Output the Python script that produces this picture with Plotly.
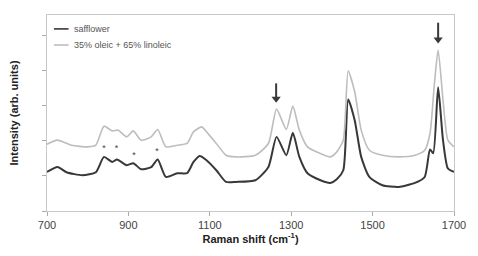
import plotly.graph_objects as go

# Raman shift (cm^-1) sample positions
wn_dark = [700, 726, 748, 787, 820, 840, 860, 872, 896, 912, 931, 956, 972, 992, 1020, 1044,
           1060, 1075, 1092, 1116, 1140, 1164, 1212, 1244, 1264, 1288, 1304, 1320, 1340, 1372,
           1396, 1412, 1428, 1440, 1456, 1472, 1492, 1524, 1564, 1604, 1628, 1641, 1649, 1661,
           1673, 1685, 1700]
safflower = [1.114, 1.257, 1.106, 1.02, 1.106, 1.543, 1.4, 1.469, 1.306, 1.363, 1.191, 1.249,
             1.469, 0.971, 1.077, 1.077, 1.4, 1.571, 1.449, 1.163, 0.829, 0.829, 0.877, 1.257,
             2.114, 1.591, 2.229, 1.543, 1.077, 0.877, 0.8, 0.906, 1.163, 3.183, 2.591, 1.543,
             0.971, 0.734, 0.686, 0.8, 0.971, 1.754, 1.649, 3.526, 2.02, 1.211, 1.114]

wn_light = [700, 726, 760, 800, 820, 840, 860, 875, 896, 912, 931, 956, 972, 992, 1020, 1044,
            1060, 1080, 1092, 1116, 1140, 1164, 1212, 1244, 1264, 1288, 1304, 1320, 1340, 1372,
            1396, 1412, 1428, 1440, 1456, 1472, 1492, 1524, 1564, 1604, 1628, 1641, 1652, 1661,
            1673, 1685, 1700]
mix = [1.906, 2.02, 1.877, 1.829, 1.877, 2.42, 2.286, 2.306, 2.114, 2.286, 2.02, 2.114, 2.326,
       1.829, 1.877, 1.926, 2.257, 2.4, 2.257, 1.926, 1.591, 1.543, 1.591, 1.926, 2.906, 2.326,
       2.991, 2.306, 1.829, 1.64, 1.543, 1.686, 2.02, 3.991, 3.4, 2.306, 1.734, 1.591, 1.543,
       1.591, 1.734, 2.211, 3.649, 4.591, 3.163, 2.02, 1.829]

series_names = ["safflower", "35% oleic + 65% linoleic"]

star_x = [840, 871, 914, 970]
star_y = [1.763, 1.763, 1.583, 1.686]

# marked bands (arrows): position, arrow tail and arrow tip
arrow_x = [1263, 1661]
arrow_top = [3.64, 5.37]
arrow_tip = [3.114, 4.8]

x_ticks = [700, 900, 1100, 1300, 1500, 1700]

FONT = "Liberation Sans, Arial, sans-serif"
DARK = "#383838"
LIGHT = "#bdbdbd"

fig = go.Figure()
fig.add_trace(go.Scatter(x=wn_dark, y=safflower, mode="lines", name=series_names[0],
                         line=dict(color=DARK, width=2, shape="spline", smoothing=0.6),
                         showlegend=False))
fig.add_trace(go.Scatter(x=wn_light, y=mix, mode="lines", name=series_names[1],
                         line=dict(color=LIGHT, width=1.6, shape="spline", smoothing=0.6),
                         showlegend=False))
fig.add_trace(go.Scatter(x=star_x, y=star_y, mode="text", text=["*"] * len(star_x),
                         textfont=dict(size=9, color="#444", family=FONT), showlegend=False,
                         hoverinfo="skip"))

# arrow shafts
shaft_x, shaft_y = [], []
for xa, yt, yp in zip(arrow_x, arrow_top, arrow_tip):
    shaft_x += [xa, xa, None]
    shaft_y += [yt, yp + 0.12, None]
fig.add_trace(go.Scatter(x=shaft_x, y=shaft_y, mode="lines", line=dict(color="#3a3a3a", width=2),
                         showlegend=False, hoverinfo="skip"))
# arrow heads
fig.add_trace(go.Scatter(x=arrow_x, y=[yp + 0.09 for yp in arrow_tip], mode="markers",
                         marker=dict(symbol="triangle-down", size=8, color="#3a3a3a",
                                     line=dict(width=0)),
                         showlegend=False, hoverinfo="skip"))

# manual legend (short line samples as in the reference)
leg_y = [0.929, 0.847]
leg_col = [DARK, LIGHT]
leg_w = [1.6, 1.6]
for name, yy, col, w in zip(series_names, leg_y, leg_col, leg_w):
    fig.add_shape(type="line", xref="paper", yref="paper", x0=0.017, x1=0.053, y0=yy, y1=yy,
                  line=dict(color=col, width=w))
    fig.add_annotation(xref="paper", yref="paper", x=0.0625, y=yy, xanchor="left",
                       yanchor="middle", text=name, showarrow=False,
                       font=dict(size=9, color="#555", family=FONT))

fig.update_layout(
    width=478, height=256,
    margin=dict(l=47, r=15, t=15, b=45),
    paper_bgcolor="white", plot_bgcolor="white",
    font=dict(family=FONT, color="#333"),
    showlegend=False,
    xaxis=dict(range=[700, 1700], tickvals=x_ticks, ticktext=[str(v) for v in x_ticks],
               ticks="outside", ticklen=4, tickcolor="#aaa",
               showline=True, linecolor="#c8c8c8", mirror=True, showgrid=False, zeroline=False,
               tickfont=dict(size=11, color="#444"),
               title=dict(text="<b>Raman shift (cm<sup>-1</sup>)</b>", font=dict(size=11, color="#222"),
                          standoff=3)),
    yaxis=dict(range=[0, 5.59], dtick=1, tick0=0, showticklabels=False,
               ticks="outside", ticklen=4, tickcolor="#aaa",
               showline=True, linecolor="#c8c8c8", mirror=True, showgrid=False, zeroline=False,
               title=dict(text="<b>Intensity (arb. units)</b>", font=dict(size=11, color="#222"),
                          standoff=21)),
)

fig.write_html("out.html", config={"displayModeBar": False},
               post_script="document.body.style.margin='0';document.body.style.overflow='hidden';")
